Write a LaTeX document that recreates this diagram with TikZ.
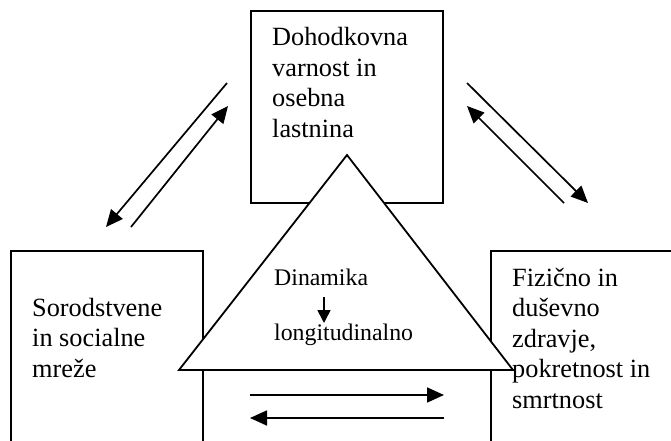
\documentclass[tikz,border=0pt]{standalone}
\usepackage{fontspec}
\setmainfont{Liberation Serif}
\usetikzlibrary{arrows.meta}
\tikzset{
  boxline/.style={draw=black, line width=1.8pt},
  tri/.style={draw=black, fill=white, line width=1.8pt, line join=miter},
  arr/.style={line width=1.7pt, -{Triangle[length=17pt,width=15pt]}},
  smallarr/.style={line width=1.7pt, -{Triangle[length=13pt,width=13pt]}},
  boxtext/.style={inner sep=0pt, anchor=base west, align=left, font=\fontsize{26.3}{30.5}\selectfont},
  midtext/.style={inner sep=0pt, anchor=base west, font=\fontsize{23.8}{28}\selectfont}
}
\begin{document}
\begin{tikzpicture}[x=1pt,y=-1pt]
\useasboundingbox (0,0) rectangle (671,441);
\clip (0,0) rectangle (671,441);
% boxes
\draw[boxline] (251,11) rectangle (443,203);
\draw[boxline] (11,251) rectangle (203,460);
\draw[boxline] (491,251) rectangle (700,460);
% triangle
\draw[tri] (347,155) -- (513,370) -- (179,370) -- cycle;
% box texts (anchored at the baseline of the last line)
\node[boxtext] (top) at (272,137) {Dohodkovna\\varnost in\\osebna\\lastnina};
\node[boxtext] (left) at (32,377) {Sorodstvene\\in socialne\\mreže};
\node[boxtext] (right) at (512,408) {Fizično in\\duševno\\zdravje,\\pokretnost in\\smrtnost};
% triangle texts
\node[midtext] (dyn) at (274,285) {Dinamika};
\node[midtext] (lon) at (274,340) {longitudinalno};
\coordinate (dv1) at (324,297);
\coordinate (dv2) at (324,323);
\draw[smallarr] (dv1) -- (dv2);
% diagonal arrows left
\coordinate (la1) at (227,83);
\coordinate (la2) at (106,227);
\coordinate (lb1) at (131,227);
\coordinate (lb2) at (228,106);
\draw[arr] (la1) -- (la2);
\draw[arr] (lb1) -- (lb2);
% diagonal arrows right
\coordinate (ra1) at (467,83);
\coordinate (ra2) at (588,203);
\coordinate (rb1) at (564,203);
\coordinate (rb2) at (467,106);
\draw[arr] (ra1) -- (ra2);
\draw[arr] (rb1) -- (rb2);
% horizontal arrows
\coordinate (ha1) at (250,395);
\coordinate (ha2) at (444,395);
\coordinate (hb1) at (444,418);
\coordinate (hb2) at (250,418);
\draw[arr] (ha1) -- (ha2);
\draw[arr] (hb1) -- (hb2);
\end{tikzpicture}
\end{document}
